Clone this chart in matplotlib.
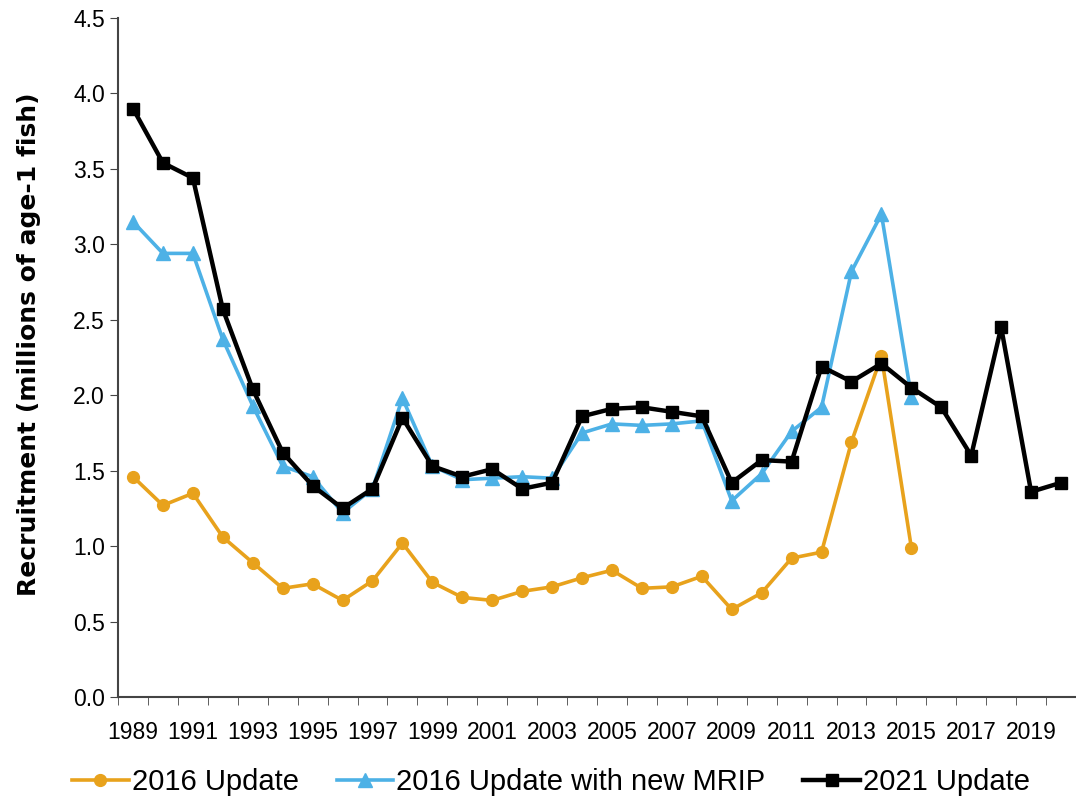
import matplotlib.pyplot as plt
from matplotlib.ticker import FormatStrFormatter

# Recruitment estimates (millions of age-1 fish)
years_2016 = list(range(1989, 2016))
update_2016 = [1.46, 1.27, 1.35, 1.06, 0.89, 0.72, 0.75, 0.64, 0.77, 1.02,
               0.76, 0.66, 0.64, 0.70, 0.73, 0.79, 0.84, 0.72, 0.73, 0.80,
               0.58, 0.69, 0.92, 0.96, 1.69, 2.26, 0.99]
update_2016_mrip = [3.15, 2.94, 2.94, 2.37, 1.93, 1.53, 1.46, 1.22, 1.38, 1.98,
                    1.53, 1.44, 1.45, 1.46, 1.45, 1.75, 1.81, 1.80, 1.81, 1.83,
                    1.30, 1.48, 1.76, 1.92, 2.82, 3.20, 1.99]

years_2021 = list(range(1989, 2021))
update_2021 = [3.90, 3.54, 3.44, 2.57, 2.04, 1.62, 1.40, 1.25, 1.38, 1.85,
               1.53, 1.46, 1.51, 1.38, 1.42, 1.86, 1.91, 1.92, 1.89, 1.86,
               1.42, 1.57, 1.56, 2.19, 2.09, 2.21, 2.05, 1.92, 1.60, 2.45,
               1.36, 1.42]

tick_years = list(range(1989, 2021, 2))

plt.rcParams['font.family'] = ['Liberation Sans', 'DejaVu Sans']

fig = plt.figure(figsize=(10.76, 8.08), dpi=100)
ax = fig.add_axes([0.1097, 0.1374, 0.8903, 0.8403])

ax.plot(years_2016, update_2016, color='#E8A21C', lw=2.6, marker='o',
        markersize=8.5, label='2016 Update', zorder=2)
ax.plot(years_2016, update_2016_mrip, color='#4DB1E6', lw=2.6, marker='^',
        markersize=10.5, label='2016 Update with new MRIP', zorder=3)
ax.plot(years_2021, update_2021, color='black', lw=3.2, marker='s',
        markersize=8.5, label='2021 Update', zorder=4)

ax.set_xlim(1988.5, 2020.5)
ax.set_ylim(0, 4.5)
ax.set_yticks([i * 0.5 for i in range(10)])
ax.yaxis.set_major_formatter(FormatStrFormatter('%.1f'))
ax.set_xticks(tick_years)
ax.set_xticks([y - 0.5 for y in range(1989, 2022)], minor=True)
ax.tick_params(axis='x', which='major', length=0, pad=17, labelsize=16.5)
ax.tick_params(axis='x', which='minor', length=6, direction='out', color='#444444')
ax.tick_params(axis='y', length=6, direction='out', labelsize=16.5, color='#444444')

for side in ['top', 'right']:
    ax.spines[side].set_visible(False)
ax.spines['left'].set_color('#444444')
ax.spines['bottom'].set_color('#444444')
ax.spines['left'].set_linewidth(1.5)
ax.spines['bottom'].set_linewidth(1.5)

ax.set_ylabel('Recruitment (millions of age-1 fish)', fontsize=18,
              fontweight='bold', family=['DejaVu Sans'])
ax.yaxis.set_label_coords(-0.08, 0.52)

fig.legend(loc='center', bbox_to_anchor=(551 / 1076, 0.032), ncol=3,
           frameon=False, fontsize=21, handlelength=1.95, columnspacing=1.3,
           handletextpad=0.1, borderaxespad=0, borderpad=0)

fig.savefig('out.png', dpi=100)
